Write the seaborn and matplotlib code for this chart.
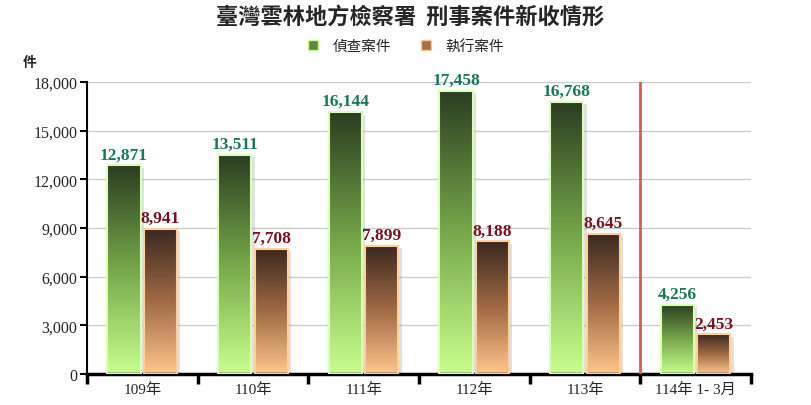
import matplotlib
matplotlib.use("Agg")
import matplotlib.pyplot as plt
import seaborn as sns
import pandas as pd
import numpy as np
from matplotlib.colors import LinearSegmentedColormap
from matplotlib.patches import Rectangle, Patch
from matplotlib.ticker import FuncFormatter

sns.set_theme(style="white")
plt.rcParams['font.family'] = ['Liberation Serif', 'Noto Sans CJK TC', 'DejaVu Sans']

years = ["109年", "110年", "111年", "112年", "113年", "114年 1- 3月"]
investigation = [12871, 13511, 16144, 17458, 16768, 4256]
execution = [8941, 7708, 7899, 8188, 8645, 2453]
series_names = ["偵查案件", "執行案件"]

df = pd.DataFrame({
    "year": years * 2,
    "type": [series_names[0]] * len(years) + [series_names[1]] * len(years),
    "count": investigation + execution,
})

green_cmap = LinearSegmentedColormap.from_list("g", ["#c9ff8e", "#76a84a", "#2b3d20"])
brown_cmap = LinearSegmentedColormap.from_list("b", ["#ffc68c", "#a06a44", "#3a2820"])
edge_colors = ["#d9ffb8", "#ffcf9c"]
label_colors = ["#17785a", "#7a1020"]

fig = plt.figure(figsize=(8.12, 4.06), dpi=100)
ax = fig.add_axes([0.1071, 0.0764, 0.8177, 0.7192])

sns.barplot(data=df, x="year", y="count", hue="type", order=years,
            hue_order=series_names, palette=["#76a84a", "#a06a44"],
            width=0.66, gap=0.09, legend=False, ax=ax)

grad = np.linspace(0, 1, 256).reshape(-1, 1)
for k, (cont, cmap) in enumerate(zip(ax.containers, [green_cmap, brown_cmap])):
    for bar in cont:
        x, w, h = bar.get_x(), bar.get_width(), bar.get_height()
        ax.imshow(grad, extent=[x, x + w, 0, h], origin="lower", cmap=cmap,
                  aspect="auto", zorder=2)
        ax.add_patch(Rectangle((x + w, 0), 0.03, h - 150, color="#888888",
                               alpha=0.25, lw=0, zorder=1.5))
        bar.set_facecolor("none")
        bar.set_edgecolor(edge_colors[k])
        bar.set_linewidth(1.5)
        bar.set_zorder(3)
    ax.bar_label(cont, labels=[f"{v:,.0f}" for v in cont.datavalues],
                 padding=2, color=label_colors[k], fontsize=12.5,
                 fontweight="bold", zorder=4)

ax.set_xlim(-0.5, len(years) - 0.5)
ax.set_ylim(0, 18000)
ax.set_yticks(range(0, 18001, 3000))
ax.yaxis.set_major_formatter(FuncFormatter(lambda v, p: f"{v:,.0f}"))
ax.grid(axis="y", color="#cccccc", lw=1)
ax.set_axisbelow(True)

ax.set_xticks(np.arange(-0.5, len(years), 1.0))
ax.set_xticklabels([])
ax.set_xticks(range(len(years)), minor=True)
ax.set_xticklabels(years, minor=True, fontsize=11)
ax.tick_params(axis="x", which="major", length=7, width=2.5, direction="out",
               color="black", bottom=True)
ax.tick_params(axis="x", which="minor", length=0, pad=6, bottom=True)
ax.tick_params(axis="y", length=5, width=1.5, direction="out", color="black",
               left=True, labelsize=11.5, pad=2)

for s in ["top", "right"]:
    ax.spines[s].set_visible(False)
ax.spines["left"].set_linewidth(1.5)
ax.spines["left"].set_color("black")
ax.spines["bottom"].set_linewidth(2.5)
ax.spines["bottom"].set_color("black")
ax.set_xlabel("")
ax.set_ylabel("")

ax.axvline(4.5, color="#e05858", lw=2, zorder=5)

fig.text(0.037, 0.845, "件", fontsize=10, fontweight="bold", ha="center",
         va="center", family=["Noto Sans CJK TC"])
fig.text(0.505, 0.958, "臺灣雲林地方檢察署  刑事案件新收情形", fontsize=16,
         fontweight="bold", ha="center", va="center", family=["Noto Sans CJK TC"])

handles = [Patch(facecolor="#5a8a3a", edgecolor="#c9ff8e"),
           Patch(facecolor="#a87048", edgecolor="#ffc68c")]
fig.legend(handles, series_names, loc="center", bbox_to_anchor=(0.5, 0.884),
           ncol=2, frameon=False, handlelength=0.7, handleheight=0.7,
           handletextpad=1.0, columnspacing=2.0,
           prop={"family": "Noto Sans CJK TC", "size": 10.5})

fig.savefig("out.png", dpi=100)
